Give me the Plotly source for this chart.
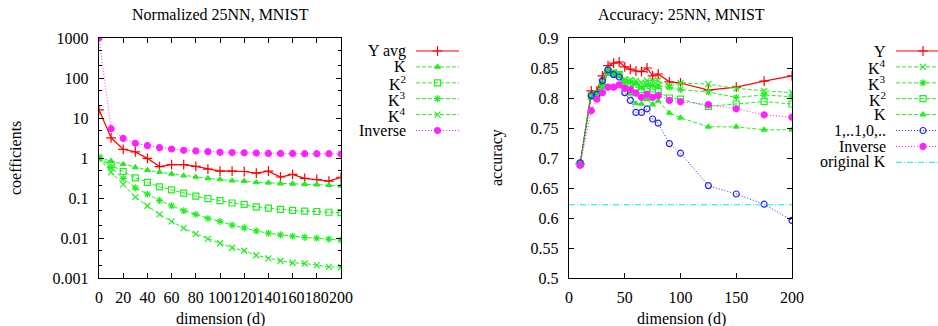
import plotly.graph_objects as go

# ---------------- data: left panel (Normalized 25NN, MNIST) ----------------
dims_left = [0, 10, 20, 30, 40, 50, 60, 70, 80, 90, 100, 110, 120, 130, 140, 150, 160, 170, 180, 190, 200]
y_avg = [16, 3.2, 1.65, 1.42, 0.98, 0.61, 0.68, 0.68, 0.62, 0.53, 0.47, 0.47, 0.46, 0.42, 0.47, 0.335,
         0.39, 0.31, 0.29, 0.265, 0.33]
coef_k = [1.0, 0.84, 0.70, 0.585, 0.50, 0.44, 0.40, 0.36, 0.335, 0.31, 0.29, 0.27, 0.265, 0.245, 0.24,
          0.23, 0.226, 0.22, 0.215, 0.21, 0.20]
coef_k2 = [1.0, 0.67, 0.46, 0.32, 0.246, 0.19, 0.16, 0.133, 0.112, 0.097, 0.086, 0.075, 0.069, 0.060,
           0.056, 0.052, 0.049, 0.047, 0.046, 0.044, 0.043]
coef_k3 = [1.0, 0.58, 0.31, 0.18, 0.125, 0.087, 0.064, 0.048, 0.039, 0.031, 0.026, 0.021, 0.018, 0.015,
           0.0132, 0.012, 0.0111, 0.0104, 0.0099, 0.0094, 0.0088]
coef_k4 = [1.0, 0.44, 0.22, 0.105, 0.064, 0.039, 0.026, 0.0176, 0.0127, 0.0095, 0.0074, 0.0057, 0.0048,
           0.0037, 0.0031, 0.0027, 0.0024, 0.0023, 0.0021, 0.0019, 0.00186]
coef_inv = [1000, 5.4, 3.1, 2.33, 2.04, 1.82, 1.68, 1.56, 1.50, 1.44, 1.39, 1.37, 1.35, 1.33, 1.30, 1.30,
            1.30, 1.28, 1.28, 1.28, 1.26]
left_yticks = [0.001, 0.01, 0.1, 1, 10, 100, 1000]
left_yticklabels = ["0.001", "0.01", "0.1", "1", "10", "100", "1000"]
left_xticks = [0, 20, 40, 60, 80, 100, 120, 140, 160, 180, 200]

# ---------------- data: right panel (Accuracy: 25NN, MNIST) ----------------
dims_right = [10, 20, 25, 30, 35, 40, 45, 50, 55, 60, 65, 70, 75, 80, 90, 100, 125, 150, 175, 200]
acc_y = [0.690, 0.812, 0.812, 0.837, 0.854, 0.858, 0.860, 0.852, 0.848, 0.845, 0.844, 0.850, 0.837, 0.840,
         0.827, 0.825, 0.813, 0.818, 0.828, 0.837]
acc_k4 = [0.690, 0.804, 0.808, 0.826, 0.846, 0.843, 0.840, 0.831, 0.830, 0.829, 0.826, 0.829, 0.829, 0.829,
          0.820, 0.825, 0.823, 0.816, 0.812, 0.809]
acc_k3 = [0.690, 0.804, 0.807, 0.823, 0.844, 0.842, 0.839, 0.828, 0.826, 0.824, 0.818, 0.822, 0.821, 0.820,
          0.818, 0.814, 0.810, 0.801, 0.805, 0.802]
acc_k2 = [0.690, 0.803, 0.807, 0.821, 0.843, 0.841, 0.839, 0.825, 0.822, 0.818, 0.814, 0.816, 0.815, 0.811,
          0.800, 0.798, 0.786, 0.790, 0.794, 0.790]
acc_k = [0.690, 0.802, 0.806, 0.819, 0.840, 0.838, 0.836, 0.820, 0.807, 0.791, 0.790, 0.798, 0.789, 0.795,
         0.775, 0.767, 0.752, 0.752, 0.747, 0.747]
acc_ones = [0.692, 0.804, 0.806, 0.829, 0.847, 0.839, 0.835, 0.809, 0.796, 0.776, 0.776, 0.782, 0.765, 0.758,
            0.724, 0.708, 0.654, 0.640, 0.623, 0.596]
acc_inv = [0.688, 0.779, 0.798, 0.809, 0.818, 0.818, 0.822, 0.816, 0.814, 0.808, 0.801, 0.806, 0.801, 0.804,
           0.796, 0.794, 0.789, 0.782, 0.772, 0.768]
acc_original_k = 0.622
right_xrange = [0, 200]
right_yticks = [0.5, 0.55, 0.6, 0.65, 0.7, 0.75, 0.8, 0.85, 0.9]

# ---------------- styles ----------------
W, H = 938, 326
FONT = "Liberation Serif"
RED = "#ff0000"
GREEN = "#22ee22"
MAGENTA = "#ff22ff"
BLUE = "#2222ff"
CYAN = "#00eeee"
DASH_G = "4px,2px"
DOT = "1px,2px"
DASHDOT = "6px,2px,1px,2px"

styles = {
    "y":    dict(color=RED, dash="solid", symbol="cross-thin-open", size=7, lw=1.2),
    "k":    dict(color=GREEN, dash=DASH_G, symbol="triangle-up", size=5, lw=1),
    "k2":   dict(color=GREEN, dash=DASH_G, symbol="square-open", size=6, lw=1),
    "k3":   dict(color=GREEN, dash=DASH_G, symbol="asterisk-open", size=6, lw=1),
    "k4":   dict(color=GREEN, dash=DASH_G, symbol="x-thin-open", size=6, lw=1),
    "inv":  dict(color=MAGENTA, dash=DOT, symbol="circle", size=6, lw=1),
    "ones": dict(color=BLUE, dash=DOT, symbol="circle-open", size=6, lw=1),
    "orig": dict(color=CYAN, dash=DASHDOT, symbol=None, size=0, lw=1),
}


def line_trace(x, y, key, xaxis, yaxis, markers=True):
    s = styles[key]
    mode = "lines+markers" if (markers and s["symbol"]) else "lines"
    mk = dict()
    if s["symbol"]:
        mk = dict(symbol=s["symbol"], size=s["size"], color=s["color"],
                  line=dict(color=s["color"], width=1.2))
    return go.Scatter(x=x, y=y, mode=mode, xaxis=xaxis, yaxis=yaxis, showlegend=False,
                      line=dict(color=s["color"], width=s["lw"], dash=s["dash"]),
                      marker=mk, hoverinfo="skip")


fig = go.Figure()

# left panel
for ys, key in [(y_avg, "y"), (coef_k, "k"), (coef_k2, "k2"), (coef_k3, "k3"),
                (coef_k4, "k4"), (coef_inv, "inv")]:
    fig.add_trace(line_trace(dims_left, ys, key, "x", "y"))

# right panel
for ys, key in [(acc_y, "y"), (acc_k4, "k4"), (acc_k3, "k3"), (acc_k2, "k2"),
                (acc_k, "k"), (acc_ones, "ones"), (acc_inv, "inv")]:
    fig.add_trace(line_trace(dims_right, ys, key, "x2", "y2"))
fig.add_trace(line_trace(right_xrange, [acc_original_k, acc_original_k], "orig", "x2", "y2"))

# ---------------- legends (drawn on a pixel overlay axis) ----------------
left_legend = [("Y avg", "y"), ("K", "k"), ("K<sup>2</sup>", "k2"), ("K<sup>3</sup>", "k3"),
               ("K<sup>4</sup>", "k4"), ("Inverse", "inv")]
right_legend = [("Y", "y"), ("K<sup>4</sup>", "k4"), ("K<sup>3</sup>", "k3"), ("K<sup>2</sup>", "k2"),
                ("K", "k"), ("1,..1,0,..", "ones"), ("Inverse", "inv"), ("original K", "orig")]

annotations = []


def add_legend(entries, text_x, line_x0, line_x1, y0, dy):
    for i, (label, key) in enumerate(entries):
        yy = y0 + i * dy
        s = styles[key]
        fig.add_trace(go.Scatter(x=[line_x0, line_x1], y=[yy, yy], mode="lines", xaxis="x3", yaxis="y3",
                                 showlegend=False, hoverinfo="skip",
                                 line=dict(color=s["color"], width=s["lw"], dash=s["dash"])))
        if s["symbol"]:
            fig.add_trace(go.Scatter(x=[(line_x0 + line_x1) / 2], y=[yy], mode="markers", xaxis="x3",
                                     yaxis="y3", showlegend=False, hoverinfo="skip",
                                     marker=dict(symbol=s["symbol"], size=s["size"], color=s["color"],
                                                 line=dict(color=s["color"], width=1.2))))
        annotations.append(dict(x=text_x, y=yy, xref="x3", yref="y3", text=label, showarrow=False,
                                xanchor="right", yanchor="middle", font=dict(family=FONT, size=16, color="black")))


add_legend(left_legend, 408, 416, 459, 51, 15.9)
add_legend(right_legend, 888, 896, 950, 51, 15.9)

# titles and axis labels
def px(x, y):
    return x / W, 1 - y / H

for text, (x, y), rot, fs in [("Normalized 25NN, MNIST", (220, 15), 0, 16),
                              ("Accuracy: 25NN, MNIST", (681, 15), 0, 16),
                              ("dimension (d)", (220, 319), 0, 16), ("dimension (d)", (681, 319), 0, 16),
                              ("coefficients", (15, 158), -90, 16), ("accuracy", (497, 158), -90, 16)]:
    xx, yy = px(x, y)
    annotations.append(dict(x=xx, y=yy, xref="paper", yref="paper", text=text, showarrow=False,
                            xanchor="center", yanchor="middle", textangle=rot,
                            font=dict(family=FONT, size=fs, color="black")))

ydom = [1 - 278 / H, 1 - 38 / H]
axis_common = dict(showline=True, linecolor="black", linewidth=1.3, mirror="allticks", ticks="inside",
                   ticklen=5, tickwidth=1, tickcolor="black", showgrid=False, zeroline=False,
                   automargin=False, tickfont=dict(family=FONT, size=16, color="black"))

fig.update_layout(
    width=W, height=H, margin=dict(l=0, r=0, t=0, b=0, autoexpand=False),
    paper_bgcolor="white", plot_bgcolor="rgba(0,0,0,0)",
    font=dict(family=FONT, size=16, color="black"),
    xaxis=dict(domain=[99 / W, 341 / W], range=[0, 200], tickvals=left_xticks, anchor="y",
               tickangle=0, ticklabelstandoff=4, **axis_common),
    yaxis=dict(domain=ydom, type="log", range=[-3, 3], tickvals=left_yticks, ticktext=left_yticklabels,
               anchor="x", ticklabelstandoff=6,
               minor=dict(ticks="inside", ticklen=3, tickcolor="black", showgrid=False), **axis_common),
    xaxis2=dict(domain=[569 / W, 792 / W], range=right_xrange, dtick=50, anchor="y2",
                tickangle=0, ticklabelstandoff=4, **axis_common),
    yaxis2=dict(domain=ydom, range=[0.5, 0.9], tickvals=right_yticks, anchor="x2",
                ticklabelstandoff=6, **axis_common),
    xaxis3=dict(domain=[0, 1], range=[0, W], visible=False, anchor="y3", fixedrange=True),
    yaxis3=dict(domain=[0, 1], range=[H, 0], visible=False, anchor="x3", fixedrange=True),
    annotations=annotations,
    showlegend=False,
)

fig.write_html("out.html", config={"displayModeBar": False, "staticPlot": True},
               post_script="document.body.style.margin='0';document.body.style.overflow='hidden';")
